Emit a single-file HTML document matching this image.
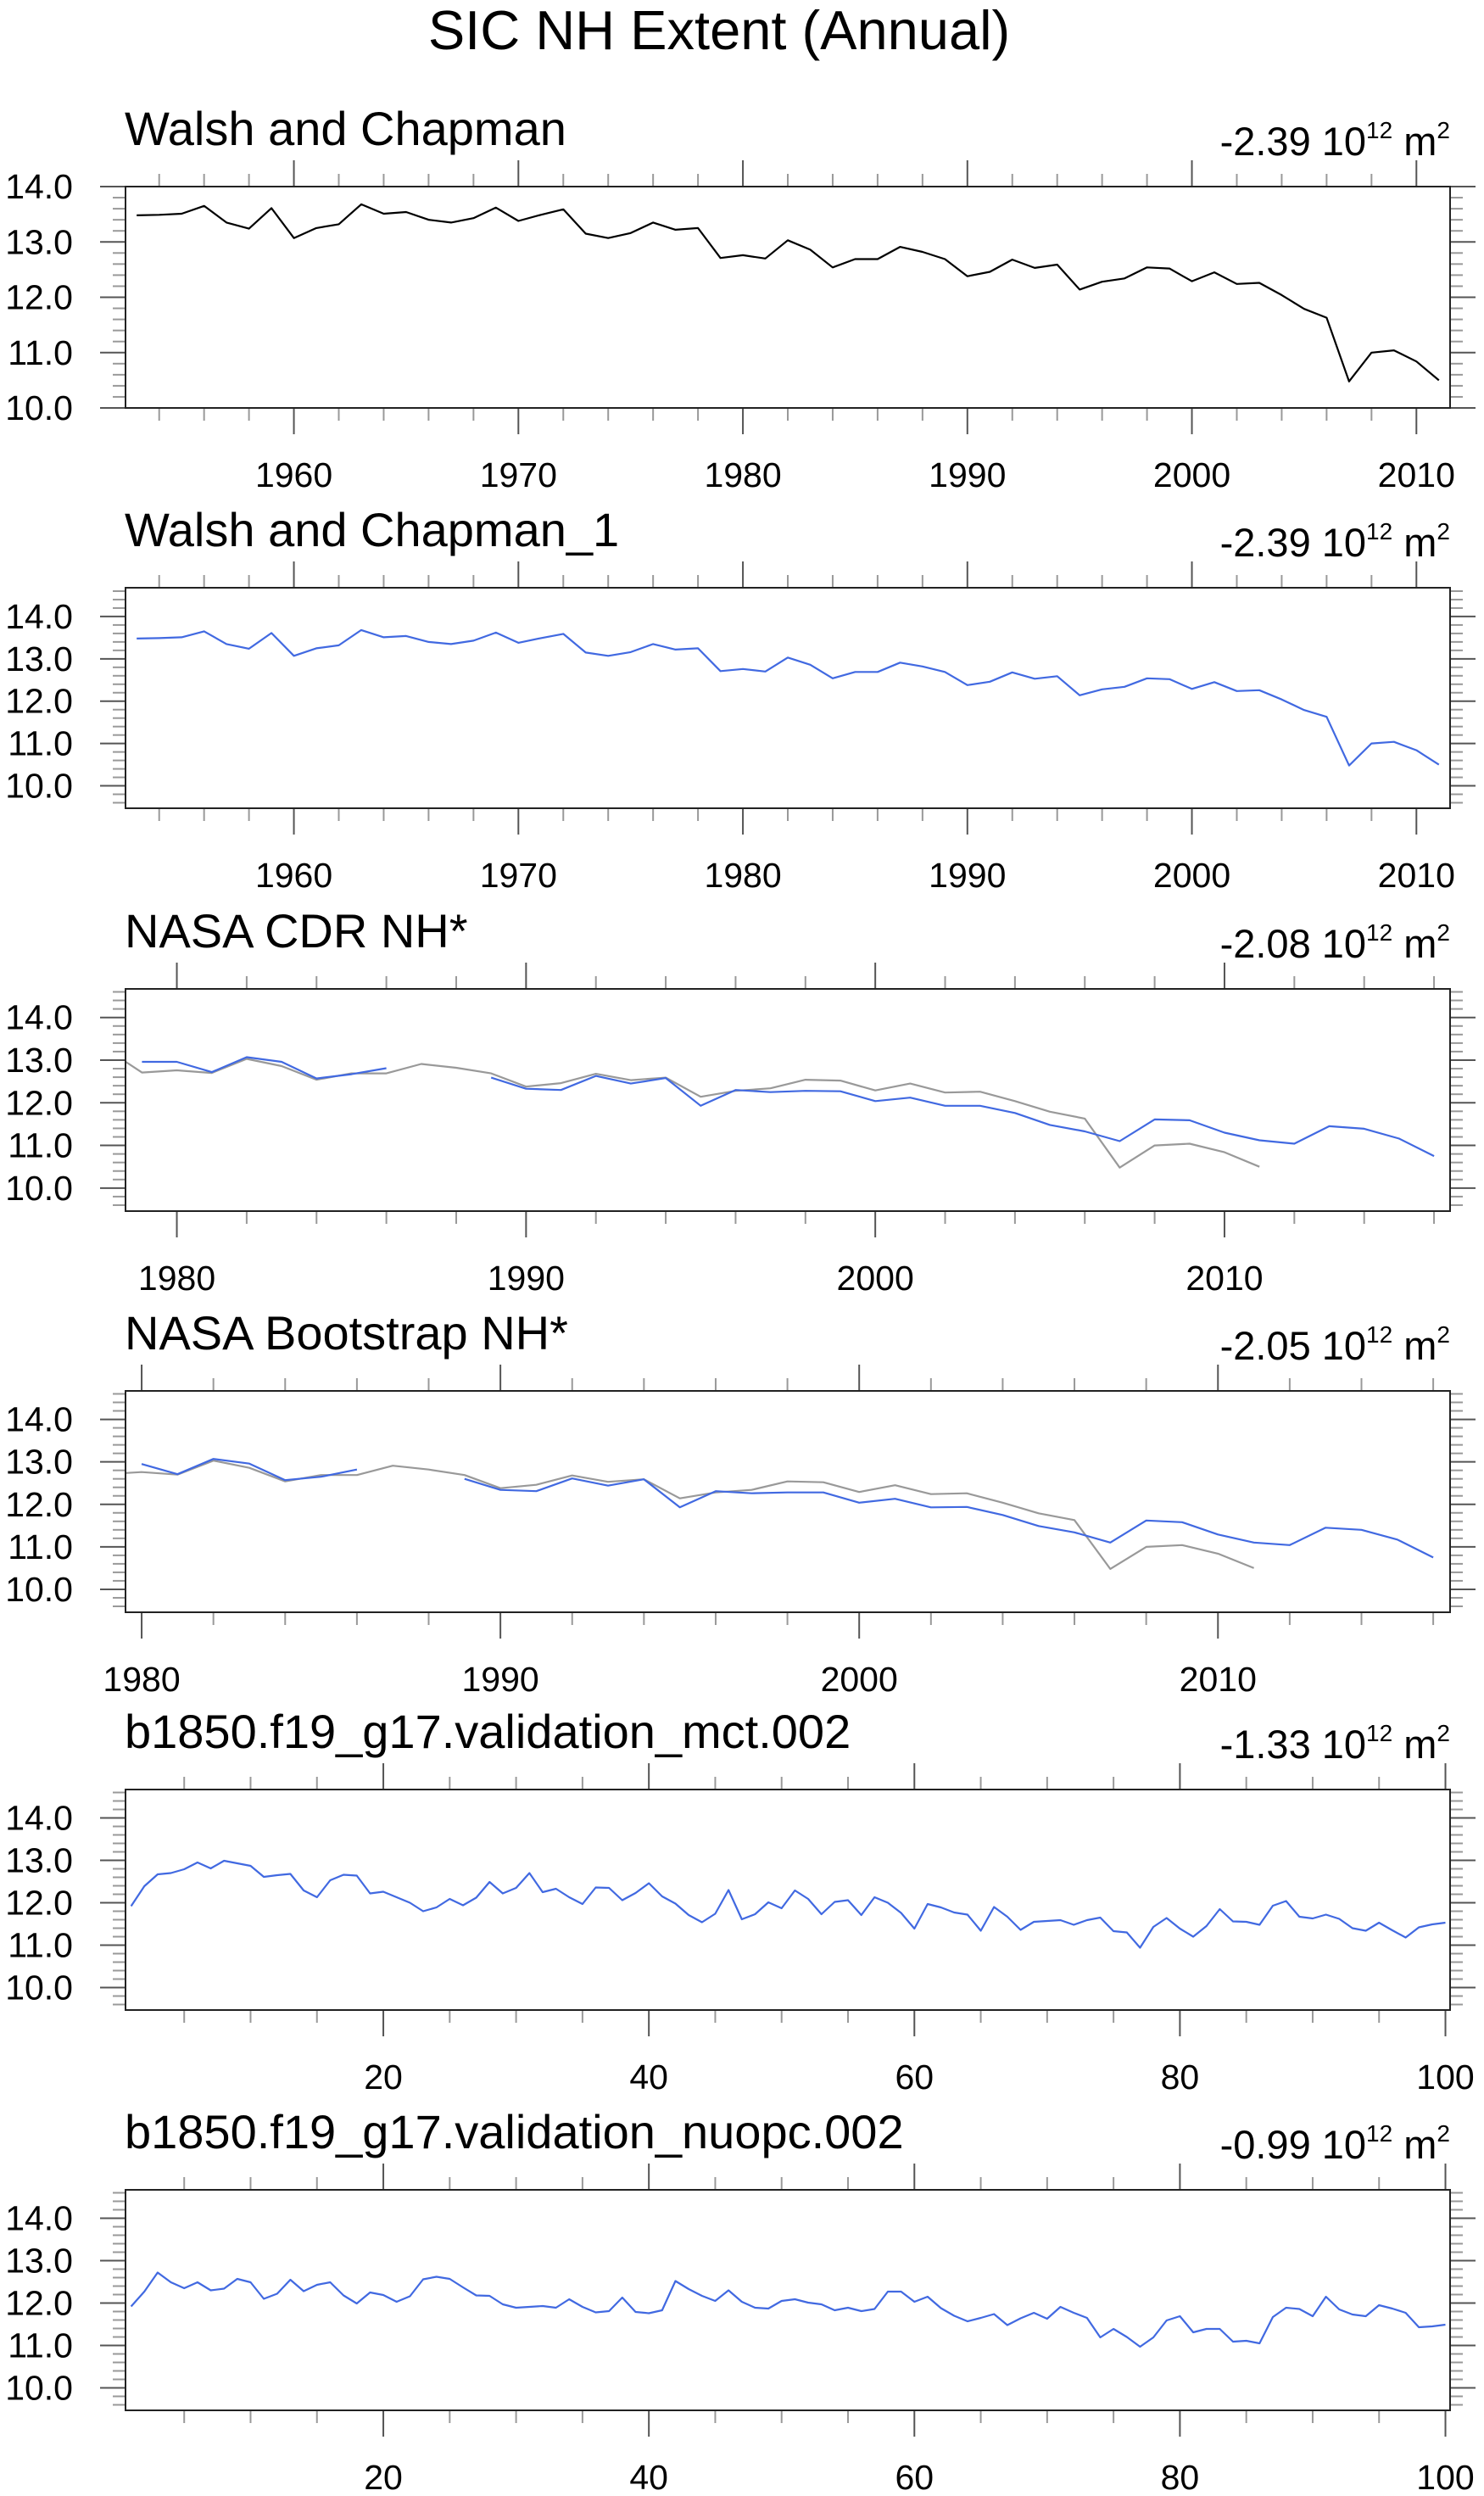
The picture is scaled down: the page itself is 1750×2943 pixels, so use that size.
<!DOCTYPE html>
<html><head><meta charset="utf-8"><title>SIC NH Extent (Annual)</title>
<style>
html,body{margin:0;padding:0;background:#fff;}
svg{display:block;font-family:"Liberation Sans",Arial,sans-serif;}
</style></head>
<body>
<svg id="fig" width="1750" height="2943" viewBox="0 0 1750 2943" xmlns="http://www.w3.org/2000/svg">
<rect width="1750" height="2943" fill="#fff"/>
<text x="848" y="58" font-size="65" text-anchor="middle">SIC NH Extent (Annual)</text>
</svg>
<script>
// ---- data ----
const wcYears = [];
for (let y = 1953; y <= 2011; y++) wcYears.push(y);
const wcValues = [13.48,13.49,13.51,13.65,13.35,13.24,13.61,13.07,13.25,13.32,13.68,13.51,13.54,13.40,13.35,13.43,13.62,13.38,13.49,13.59,13.15,13.07,13.16,13.35,13.22,13.25,12.71,12.76,12.70,13.03,12.86,12.54,12.69,12.69,12.91,12.82,12.69,12.38,12.46,12.68,12.53,12.59,12.14,12.28,12.34,12.54,12.52,12.29,12.45,12.24,12.26,12.04,11.79,11.63,10.48,11.00,11.04,10.84,10.50];
const nasaYears = [];
for (let y = 1979; y <= 2016; y++) nasaYears.push(y);
const cdrValues = [12.96,12.96,12.72,13.07,12.96,12.57,12.67,12.81,null,null,12.59,12.33,12.30,12.63,12.45,12.58,11.93,12.30,12.25,12.28,12.27,12.04,12.12,11.93,11.93,11.76,11.48,11.33,11.10,11.61,11.59,11.30,11.12,11.04,11.45,11.39,11.16,10.75];
const bootValues = [null,12.95,12.71,13.07,12.96,12.57,12.65,12.82,null,null,12.60,12.34,12.31,12.61,12.44,12.59,11.93,12.31,12.26,12.28,12.28,12.04,12.13,11.93,11.94,11.75,11.49,11.34,11.10,11.62,11.58,11.29,11.10,11.04,11.45,11.40,11.17,10.75];
const modelYears = [];
for (let i = 1; i <= 100; i++) modelYears.push(i);
const mctValues = [11.92,12.39,12.67,12.70,12.79,12.95,12.81,12.99,12.93,12.87,12.61,12.65,12.68,12.29,12.13,12.53,12.66,12.64,12.22,12.26,12.13,12.00,11.80,11.89,12.09,11.94,12.12,12.49,12.22,12.35,12.70,12.25,12.33,12.13,11.97,12.36,12.35,12.06,12.23,12.46,12.15,11.98,11.71,11.54,11.74,12.30,11.61,11.73,12.01,11.87,12.29,12.09,11.73,12.02,12.06,11.71,12.13,12.00,11.76,11.39,11.97,11.89,11.77,11.72,11.34,11.90,11.67,11.36,11.55,11.57,11.59,11.48,11.59,11.65,11.33,11.30,10.94,11.43,11.64,11.39,11.20,11.45,11.85,11.56,11.55,11.48,11.93,12.04,11.67,11.63,11.72,11.62,11.40,11.34,11.53,11.35,11.18,11.42,11.49,11.53];
const nuopcValues = [11.92,12.27,12.72,12.49,12.35,12.49,12.30,12.34,12.57,12.49,12.10,12.22,12.55,12.28,12.43,12.49,12.18,11.99,12.25,12.19,12.03,12.16,12.56,12.62,12.57,12.37,12.18,12.17,11.97,11.89,11.91,11.93,11.89,12.09,11.91,11.78,11.81,12.13,11.79,11.76,11.83,12.52,12.33,12.17,12.05,12.30,12.03,11.89,11.87,12.05,12.09,12.01,11.97,11.83,11.89,11.81,11.86,12.27,12.27,12.03,12.15,11.88,11.70,11.57,11.65,11.74,11.48,11.64,11.77,11.63,11.91,11.77,11.65,11.19,11.39,11.20,10.97,11.19,11.59,11.69,11.31,11.39,11.39,11.09,11.11,11.05,11.67,11.89,11.86,11.69,12.15,11.85,11.73,11.69,11.95,11.87,11.77,11.43,11.45,11.49];
const yTickLabels = ["10.0","11.0","12.0","13.0","14.0"];
const yTickValues = [10,11,12,13,14];
const panelTitles = ["Walsh and Chapman","Walsh and Chapman_1","NASA CDR NH*","NASA Bootstrap NH*","b1850.f19_g17.validation_mct.002","b1850.f19_g17.validation_nuopc.002"];
const trendValues = ["-2.39","-2.39","-2.08","-2.05","-1.33","-0.99"];

// ---- layout ----
const NS = "http://www.w3.org/2000/svg";
const svg = document.getElementById('fig');
const L = 148, R = 1710;
function mk(tag, attrs, parent){
  const e = document.createElementNS(NS, tag);
  for (const k in attrs) e.setAttribute(k, attrs[k]);
  (parent||svg).appendChild(e);
  return e;
}
const panels = [
  {top:220,bottom:481,ymin:10,ymax:14,xmin:1952.5,xmax:2011.5,major:10,minor:2,majStart:1960,series:[{x:wcYears,y:wcValues,c:"#000"}]},
  {top:693,bottom:953,ymin:9.47,ymax:14.68,xmin:1952.5,xmax:2011.5,major:10,minor:2,majStart:1960,series:[{x:wcYears,y:wcValues,c:"#4169e1"}]},
  {top:1166,bottom:1428,ymin:9.46,ymax:14.67,xmin:1978.53,xmax:2016.46,major:10,minor:2,majStart:1980,series:[{x:wcYears,y:wcValues,c:"#999"},{x:nasaYears,y:cdrValues,c:"#4169e1"}]},
  {top:1640,bottom:1901,ymin:9.46,ymax:14.67,xmin:1979.55,xmax:2016.47,major:10,minor:2,majStart:1980,series:[{x:wcYears,y:wcValues,c:"#999"},{x:nasaYears,y:bootValues,c:"#4169e1"}]},
  {top:2110,bottom:2370,ymin:9.47,ymax:14.67,xmin:0.58,xmax:100.35,major:20,minor:5,majStart:20,series:[{x:modelYears,y:mctValues,c:"#4169e1"}]},
  {top:2582,bottom:2842,ymin:9.47,ymax:14.67,xmin:0.58,xmax:100.35,major:20,minor:5,majStart:20,series:[{x:modelYears,y:nuopcValues,c:"#4169e1"}]}
];

panels.forEach((p, pi) => {
  const g = mk('g', {});
  
  
  const sx = v => L + (v - p.xmin) / (p.xmax - p.xmin) * (R - L);
  const sy = v => p.bottom - (v - p.ymin) / (p.ymax - p.ymin) * (p.bottom - p.top);

  const t = mk('text', {x:L-1, y:p.top-49, 'font-size':56}, g);
  
  
  t.textContent = panelTitles[pi];
  const tr = mk('text', {x:R, y:p.top-37, 'font-size':47, 'text-anchor':'end'}, g);
  
  
  const s1 = mk('tspan', {}, tr); s1.textContent = trendValues[pi] + " 10";
  const s2 = mk('tspan', {dy:-20, 'font-size':28}, tr); s2.textContent = "12";
  const s3 = mk('tspan', {dy:20}, tr); s3.textContent = " m";
  const s4 = mk('tspan', {dy:-20, 'font-size':28}, tr); s4.textContent = "2";

  const yMinorStart = Math.ceil(p.ymin*5-1e-6)/5;
  for (let v = yMinorStart; v <= p.ymax + 1e-6; v += 0.2) {
    const vv = Math.round(v*10)/10;
    const isMaj = Math.abs(vv - Math.round(vv)) < 1e-6;
    const len = isMaj ? 30 : 15;
    const y = sy(vv);
    const col = isMaj ? "#555" : "#999";
    const a = mk('line', {x1:L-len, x2:L, y1:y, y2:y, stroke:col, 'stroke-width':2}, g);
    
    
    const b = mk('line', {x1:R, x2:R+len, y1:y, y2:y, stroke:col, 'stroke-width':2}, g);
    
    
  }
  yTickValues.forEach((v, i) => {
    const lab = mk('text', {x:86, y:sy(v)+14, 'font-size':41, 'text-anchor':'end'}, g);
    
    
    lab.textContent = yTickLabels[i];
  });

  const xStart = Math.ceil(p.xmin / p.minor) * p.minor;
  for (let v = xStart; v <= p.xmax + 1e-6; v += p.minor) {
    const isMaj = (v % p.major) === 0;
    const len = isMaj ? 31 : 15;
    const x = sx(v);
    const col = isMaj ? "#555" : "#999";
    const a = mk('line', {x1:x, x2:x, y1:p.top-len, y2:p.top, stroke:col, 'stroke-width':2}, g);
    
    
    const b = mk('line', {x1:x, x2:x, y1:p.bottom, y2:p.bottom+len, stroke:col, 'stroke-width':2}, g);
    
    
    if (isMaj && v >= p.majStart) {
      const lab = mk('text', {x:x, y:p.bottom+93, 'font-size':41, 'text-anchor':'middle'}, g);
      
      
      lab.textContent = String(v);
    }
  }

  const cid = 'clip' + pi;
  const cp = mk('clipPath', {id:cid}, g);
  mk('rect', {x:L, y:p.top, width:R-L, height:p.bottom-p.top}, cp);

  p.series.forEach((s, si) => {
    let d = '', pen = false;
    s.x.forEach((xv, i) => {
      const yv = s.y[i];
      if (yv === null || yv === undefined) { pen = false; return; }
      d += (pen ? 'L' : 'M') + sx(xv).toFixed(1) + ' ' + sy(yv).toFixed(1) + ' ';
      pen = true;
    });
    const path = mk('path', {d:d, fill:'none', stroke:s.c, 'stroke-width':2.2, 'stroke-linejoin':'round', 'clip-path':'url(#'+cid+')'}, g);
    
    
  });

  const fr = mk('rect', {x:L, y:p.top, width:R-L, height:p.bottom-p.top, fill:'none', stroke:'#222', 'stroke-width':2}, g);
  
  
});
</script>
</body></html>
